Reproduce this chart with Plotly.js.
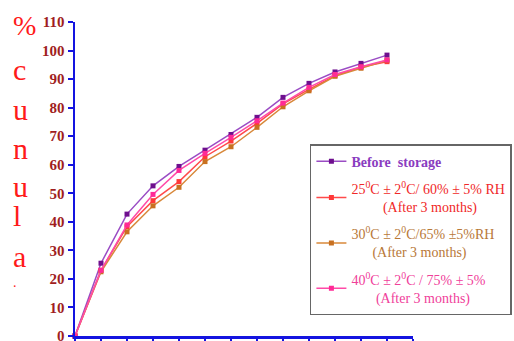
<!DOCTYPE html>
<html>
<head>
<meta charset="utf-8">
<script src="https://cdn.plot.ly/plotly-3.0.1.min.js"></script>
<style>html,body{margin:0;padding:0;background:#fff;}#chart{width:514px;height:341px;}</style>
</head>
<body>
<div id="chart"></div>
<script>
// Time points (index on the x axis)
const timePoints = [0, 1, 2, 3, 4, 5, 6, 7, 8, 9, 10, 11, 12];
// % cumulative release
const beforeStorage = [0, 25.5, 42.7, 52.6, 59.4, 65.1, 70.6, 76.6, 83.6, 88.5, 92.5, 95.5, 98.4];
const cond25 = [0, 23.0, 38.3, 47.4, 54.1, 62.8, 68.3, 74.5, 81.3, 86.4, 91.2, 94.2, 96.1];
const cond30 = [0, 22.5, 36.5, 45.6, 52.1, 61.1, 66.3, 73.1, 80.3, 85.9, 91.0, 93.8, 96.6];
const cond40 = [0, 23.0, 38.9, 49.6, 58.0, 64.0, 69.6, 75.4, 81.6, 87.1, 91.6, 94.3, 96.7];

const seriesNames = [
  '<b>Before  storage</b>',
  '25<sup>0</sup>C ± 2<sup>0</sup>C/ 60% ± 5% RH<br>\u00a0\u00a0\u00a0\u00a0\u00a0\u00a0\u00a0\u00a0\u00a0(After 3 months)',
  '30<sup>0</sup>C ± 2<sup>0</sup>C/65% ±5%RH<br>\u00a0\u00a0\u00a0\u00a0\u00a0\u00a0(After 3 months)',
  '40<sup>0</sup>C ± 2<sup>0</sup>C / 75% ± 5%<br>\u00a0\u00a0\u00a0\u00a0\u00a0\u00a0\u00a0(After 3 months)'
];
const lineColors = ['#9a4cc4', '#ff4a4a', '#d8883a', '#ff4aa8'];
const markerColors = ['#6e0f8e', '#ff3838', '#c87020', '#ff2a96'];
const textColors = ['#8a3cc0', '#f02828', '#b87838', '#f0409a'];
// vertical y-axis title, drawn one character per line (clipped in the original)
const yTitleChars = ['%', 'c', 'u', 'n', 'u', 'l', 'a', '.'];

const seriesData = [beforeStorage, cond25, cond30, cond40];

const traces = seriesData.map((ys, i) => ({
  x: timePoints,
  y: ys,
  type: 'scatter',
  mode: 'lines+markers',
  name: '<span style="color:' + textColors[i] + '">' + seriesNames[i] + '</span>',
  legendgroup: 'g' + i,
  line: {color: lineColors[i], width: 1.5},
  marker: {color: markerColors[i], size: 5, symbol: 'square'},
  cliponaxis: false
}));

// pixel layout helpers for the stacked title
const plotTop = 22, plotH = 314, plotL = 75, plotW = 338;
const charCenters = [25, 70, 109, 148, 186, 215, 256, 274];
const titleAnnotations = yTitleChars.map((ch, i) => {
  const isDot = ch === '.';
  return {
    xref: 'paper', yref: 'paper',
    x: (12 - plotL) / plotW,
    y: (plotTop + plotH - charCenters[i]) / plotH,
    xanchor: 'left', yanchor: isDot ? 'top' : 'middle',
    showarrow: false,
    borderpad: 0,
    text: ch,
    font: {family: 'Liberation Serif', size: isDot ? 14 : (ch === '%' ? 28 : 30), color: '#ff1a1a'}
  };
});

const layout = {
  width: 514,
  height: 341,
  margin: {l: 75, r: 101, t: 22, b: 5, autoexpand: false},
  paper_bgcolor: '#ffffff',
  plot_bgcolor: '#ffffff',
  showlegend: true,
  legend: {
    x: 0.695, y: 0.611, xanchor: 'left', yanchor: 'top',
    bgcolor: '#ffffff', bordercolor: '#666666', borderwidth: 1.5,
    font: {family: 'Liberation Serif', size: 14, color: '#000'},
    traceorder: 'grouped', tracegroupgap: 6
  },
  xaxis: {
    range: [0, 13], dtick: 1, tick0: 0,
    showgrid: false, zeroline: false, showticklabels: false,
    showline: true, linecolor: '#1414e0', linewidth: 2.5,
    ticks: 'outside', ticklen: 6, tickwidth: 2, tickcolor: '#1414e0'
  },
  yaxis: {
    range: [0, 110], dtick: 10, tick0: 0,
    showgrid: false, zeroline: false,
    showline: true, linecolor: '#1414e0', linewidth: 2.5,
    ticks: 'outside', ticklen: 5, tickwidth: 2, tickcolor: '#1414e0',
    ticklabeloverflow: 'allow',
    tickfont: {family: 'Liberation Serif', size: 15, color: '#a01e1e', weight: 'bold'}
  },
  annotations: titleAnnotations
};

Plotly.newPlot('chart', traces, layout, {displayModeBar: false, staticPlot: true});
</script>
</body>
</html>
